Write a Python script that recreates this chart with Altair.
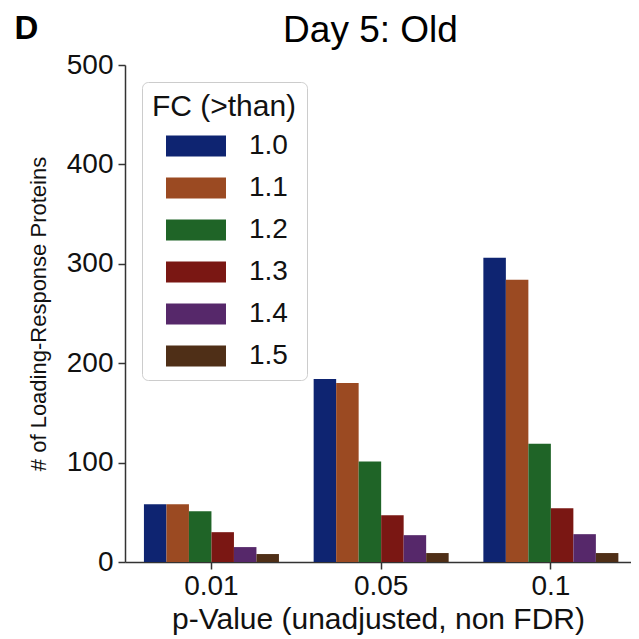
import altair as alt
import pandas as pd

p_values = ["0.01", "0.05", "0.1"]
fc_levels = ["1.0", "1.1", "1.2", "1.3", "1.4", "1.5"]
counts_001 = [58, 58, 51, 30, 15, 8]
counts_005 = [184, 180, 101, 47, 27, 9]
counts_01 = [306, 284, 119, 54, 28, 9]
colors = ["#0e2471", "#9b4a22", "#1f6427", "#7a1713", "#56286a", "#4f2f17"]
chart_title = ["Day 5: Old"]
panel_letter = ["D"]

rows = []
for p, vals in zip(p_values, [counts_001, counts_005, counts_01]):
    for fc, v in zip(fc_levels, vals):
        rows.append({"p": p, "fc": fc, "count": v})
df = pd.DataFrame(rows)

FONT = "Liberation Sans"

bars = alt.Chart(df).mark_bar(stroke=None).encode(
    x=alt.X("p:N", sort=p_values,
            scale=alt.Scale(paddingInner=0.2045, paddingOuter=0.093, align=0.6),
            axis=alt.Axis(title="p-Value (unadjusted, non FDR)", labelAngle=0)),
    xOffset=alt.XOffset("fc:N", sort=fc_levels,
                        scale=alt.Scale(paddingInner=0, paddingOuter=0)),
    y=alt.Y("count:Q", scale=alt.Scale(domain=[0, 500], nice=False),
            axis=alt.Axis(title="# of Loading-Response Proteins",
                          values=[0, 100, 200, 300, 400, 500])),
    color=alt.Color("fc:N", sort=fc_levels,
                    scale=alt.Scale(domain=fc_levels, range=colors),
                    legend=alt.Legend(title="FC (>than)", orient="none",
                                      legendX=17, legendY=17)),
)

panel = alt.Chart(pd.DataFrame({"label": panel_letter})).mark_text(
    fontSize=33, fontWeight="bold", font=FONT, align="center",
    baseline="alphabetic", color="#000"
).encode(text="label:N", x=alt.value(-98.5), y=alt.value(-26))

title = alt.Chart(pd.DataFrame({"label": chart_title})).mark_text(
    fontSize=37, fontWeight="normal", font=FONT, align="center",
    baseline="alphabetic", color="#000"
).encode(text="label:N", x=alt.value(245.5), y=alt.value(-23))

chart = alt.layer(bars, panel, title).properties(
    width=506, height=497,
    autosize=alt.AutoSizeParams(type="none"),
    padding={"left": 117, "top": 57, "right": 0, "bottom": 80},
).configure_view(stroke=None).configure_axis(
    grid=False, labelFont=FONT, titleFont=FONT, labelFontSize=28,
    labelColor="#111", titleColor="#111", domainColor="#333",
    tickColor="#333", domainWidth=1.5, tickWidth=1.5, tickSize=7,
    titleFontWeight="normal"
).configure_axisY(
    titleFontSize=22, labelPadding=5, titlePadding=16
).configure_axisX(
    titleFontSize=30, labelPadding=3, titlePadding=4
).configure_legend(
    titleFont=FONT, labelFont=FONT, titleFontSize=30, labelFontSize=28,
    titleFontWeight="normal", titleColor="#111", labelColor="#111",
    strokeColor="#cccccc", cornerRadius=6, fillColor="white", padding=10,
    symbolType="M-0.4167,-0.875L4.583,-0.875L4.583,0.875L-0.4167,0.875Z",
    symbolSize=576, symbolStrokeWidth=0, symbolOpacity=1, symbolOffset=-4,
    labelOffset=64, rowPadding=14, titlePadding=10, titleAnchor="middle"
)

chart.save("out.html", embed_options={"renderer": "svg", "actions": False})
